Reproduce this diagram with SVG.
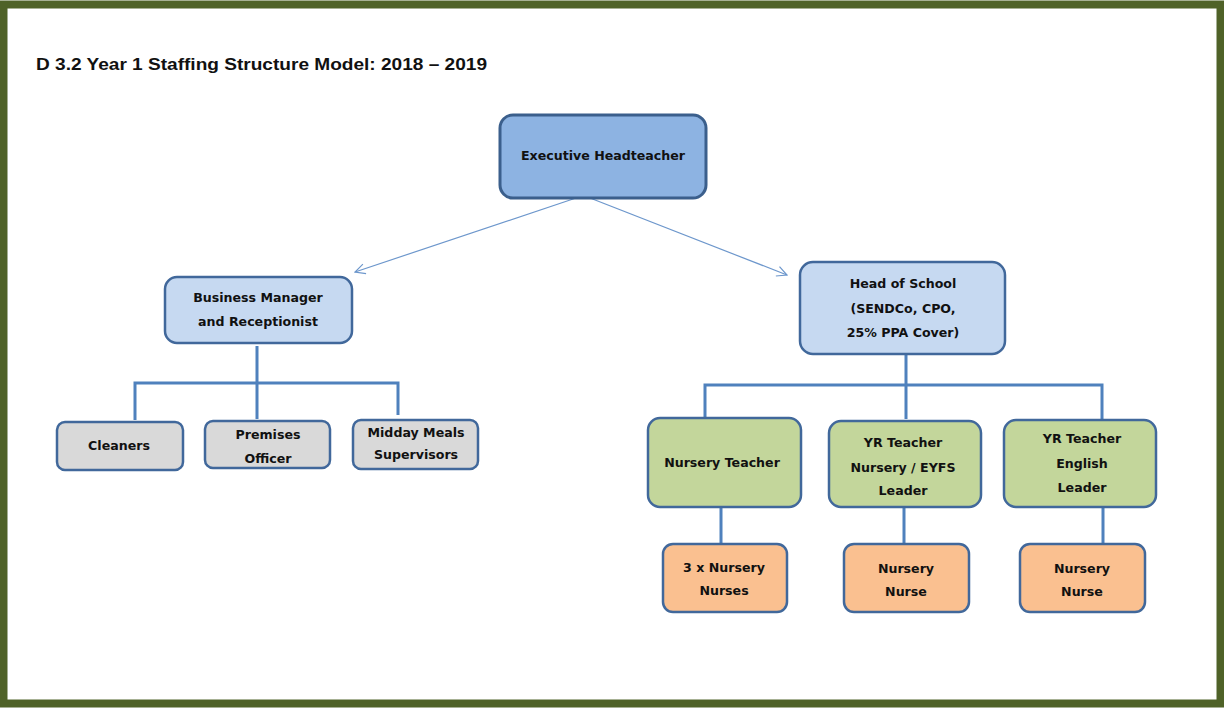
<svg xmlns="http://www.w3.org/2000/svg" width="1224" height="708" viewBox="0 0 1224 708">
<defs>
<style>
.box{stroke:#41689B;stroke-width:2.5}
.exec{fill:#8DB3E2;stroke:#3B5F8C;stroke-width:3}
.lb{fill:#C6D9F1}
.gr{fill:#D9D9D9}
.gn{fill:#C3D69B}
.or{fill:#FAC090}
.t{font-family:"DejaVu Sans",Verdana,sans-serif;font-weight:bold;font-size:12.6px;fill:#111;text-anchor:middle}
.ln{fill:none;stroke:#4F81BD;stroke-width:3}
.ar{fill:none;stroke:#6D97CC;stroke-width:1.2}
</style>
<marker id="arr" viewBox="0 0 12 12" refX="11" refY="6" markerWidth="12" markerHeight="12" markerUnits="userSpaceOnUse" orient="auto">
<path d="M1,1 L11,6 L1,11" fill="none" stroke="#6D97CC" stroke-width="1.2"/>
</marker>
</defs>
<rect x="0" y="0" width="1224" height="708" fill="#fff"/>
<rect x="3.5" y="4.5" width="1217" height="699" fill="none" stroke="#4F6228" stroke-width="8"/>
<text x="36" y="70" font-family="'Liberation Sans',Arial,sans-serif" font-weight="bold" font-size="16" fill="#111" textLength="451" lengthAdjust="spacingAndGlyphs">D 3.2 Year 1 Staffing Structure Model: 2018 – 2019</text>

<g id="connectors">
<line class="ar" x1="576" y1="198" x2="355" y2="272" marker-end="url(#arr)"/>
<line class="ar" x1="590" y1="198" x2="787" y2="275" marker-end="url(#arr)"/>
<path class="ln" d="M257,346 V419 M135,420 V383 H398 V415"/>
<path class="ln" d="M906,355 V419 M705,421 V385 H1102 V421"/>
<path class="ln" d="M721,508 V544 M904,508 V544 M1103,508 V544"/>
</g>

<g id="exec"><rect class="exec" x="500" y="115" width="206" height="83" rx="13"/><text class="t" x="603" y="160">Executive Headteacher</text></g>
<g id="business"><rect class="box lb" x="165" y="277" width="187" height="66" rx="12"/><text class="t" x="258" y="302">Business Manager</text><text class="t" x="258" y="326">and Receptionist</text></g>
<g id="cleaners"><rect class="box gr" x="57" y="422" width="126" height="48" rx="8"/><text class="t" x="119" y="450">Cleaners</text></g>
<g id="premises"><rect class="box gr" x="205" y="421" width="125" height="47" rx="8"/><text class="t" x="268" y="439">Premises</text><text class="t" x="268" y="463">Officer</text></g>
<g id="midday"><rect class="box gr" x="353" y="420" width="125" height="49" rx="8"/><text class="t" x="416" y="437">Midday Meals</text><text class="t" x="416" y="459">Supervisors</text></g>
<g id="head"><rect class="box lb" x="800" y="262" width="205" height="92" rx="13"/><text class="t" x="903" y="288">Head of School</text><text class="t" x="903" y="313">(SENDCo, CPO,</text><text class="t" x="903" y="337">25% PPA Cover)</text></g>
<g id="nurseryteacher"><rect class="box gn" x="648" y="418" width="153" height="89" rx="12"/><text class="t" x="722" y="467">Nursery Teacher</text></g>
<g id="yr1"><rect class="box gn" x="829" y="421" width="152" height="86" rx="12"/><text class="t" x="903" y="447">YR Teacher</text><text class="t" x="903" y="472">Nursery / EYFS</text><text class="t" x="903" y="495">Leader</text></g>
<g id="yr2"><rect class="box gn" x="1004" y="420" width="152" height="87" rx="12"/><text class="t" x="1082" y="443">YR Teacher</text><text class="t" x="1082" y="468">English</text><text class="t" x="1082" y="492">Leader</text></g>
<g id="nn1"><rect class="box or" x="663" y="544" width="124" height="68" rx="10"/><text class="t" x="724" y="572">3 x Nursery</text><text class="t" x="724" y="595">Nurses</text></g>
<g id="nn2"><rect class="box or" x="844" y="544" width="125" height="68" rx="10"/><text class="t" x="906" y="573">Nursery</text><text class="t" x="906" y="596">Nurse</text></g>
<g id="nn3"><rect class="box or" x="1020" y="544" width="125" height="68" rx="10"/><text class="t" x="1082" y="573">Nursery</text><text class="t" x="1082" y="596">Nurse</text></g>
</svg>
